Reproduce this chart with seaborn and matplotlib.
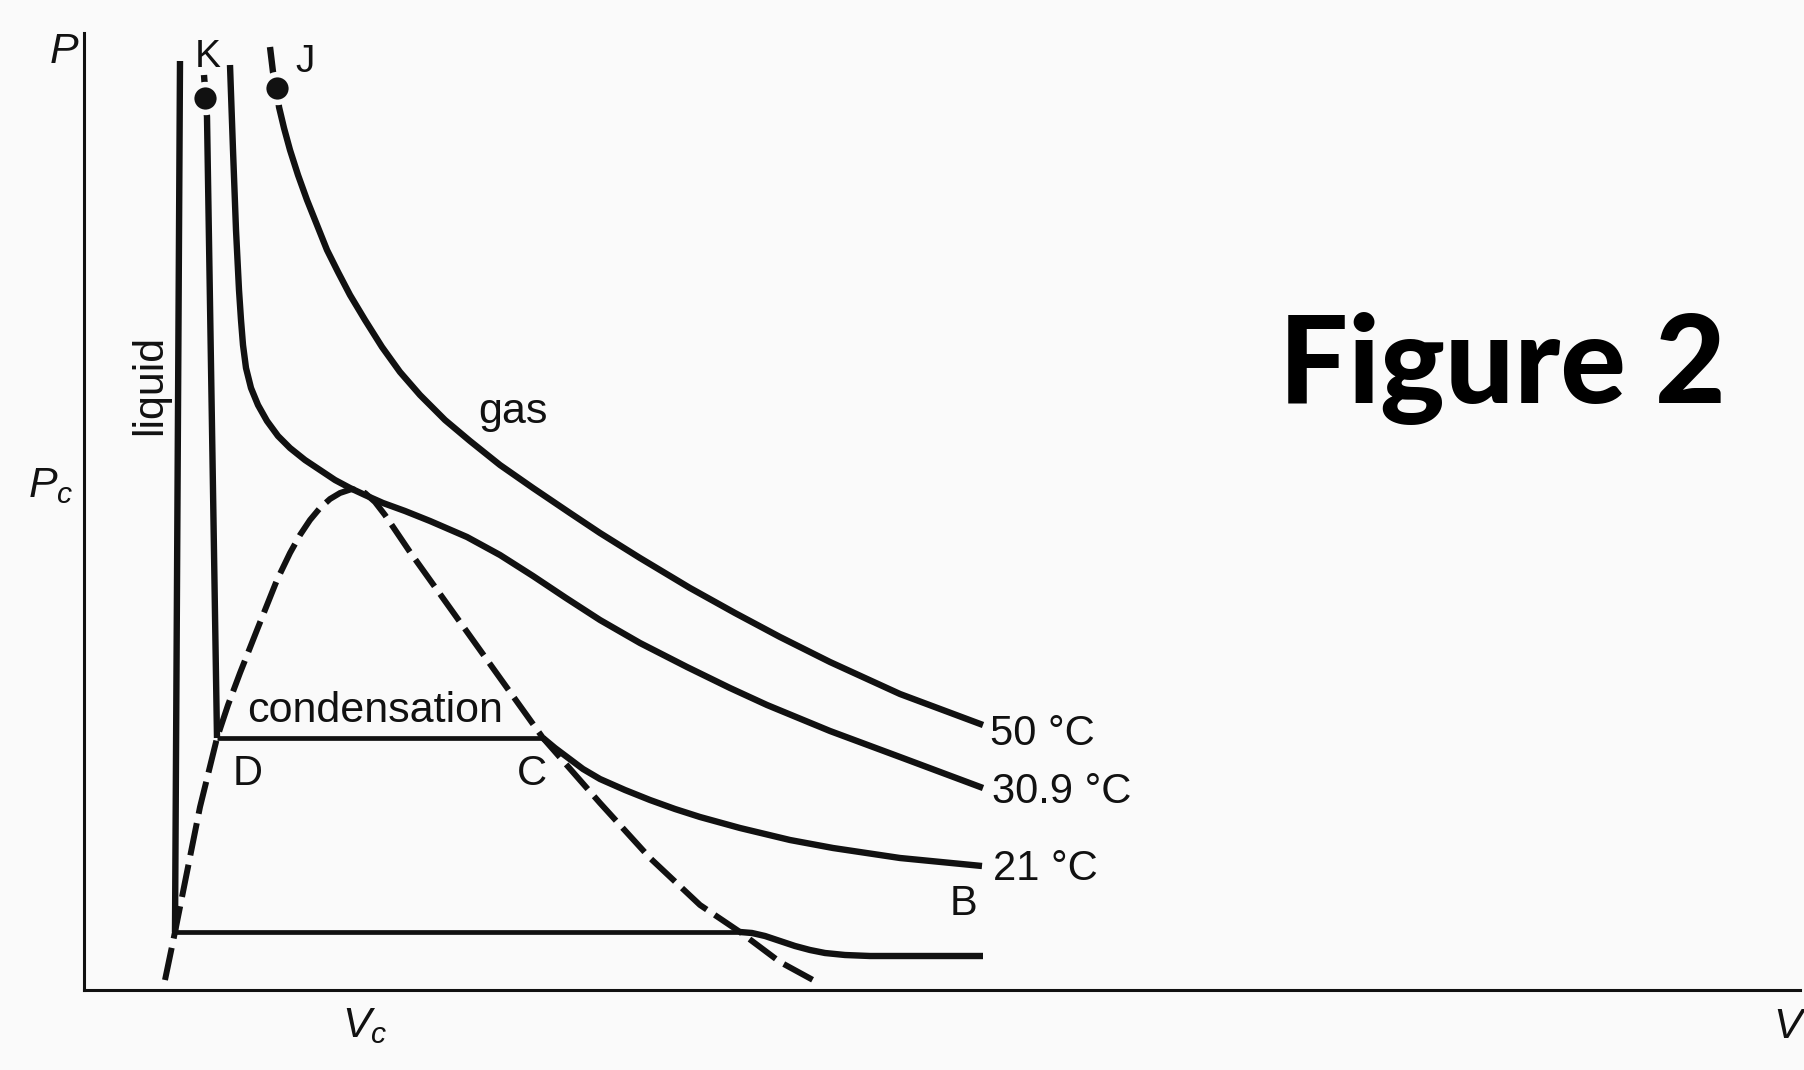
import matplotlib
matplotlib.use("Agg")
import matplotlib.pyplot as plt
import seaborn as sns

# ---------------- data (V, P in arbitrary units) -------------
# lowest (unlabelled) isotherm
low_liq_V = [9.6, 9.1]
low_liq_P = [92.9, 5.8]
low_tie_V = [9.1, 65.6]
low_tie_P = [5.8, 5.8]
low_gas_V = [65.6, 66.8, 68.1, 69.6, 71.1, 72.6, 74.1, 76.1, 78.6, 89.9]
low_gas_P = [5.8, 5.7, 5.4, 4.9, 4.4, 4.0, 3.7, 3.5, 3.4, 3.4]

# 21 degC isotherm (K ... D -- C ... B)
t21_liq_V = [12.0, 12.3, 13.3]
t21_liq_P = [91.5, 87.3, 25.2]
t21_tie_V = [13.3, 45.9]
t21_tie_P = [25.2, 25.2]
t21_gas_V = [45.9, 47.1, 48.3, 49.9, 51.6, 54.1, 56.6, 59.1, 61.6, 65.6, 70.6,
             74.9, 81.6, 89.8]
t21_gas_P = [25.2, 24.2, 23.3, 22.1, 21.1, 20.0, 19.0, 18.1, 17.3, 16.2, 15.0,
             14.2, 13.2, 12.4]

# 30.9 degC (critical) isotherm
t309_V = [14.6, 14.9, 15.2, 15.5, 15.7, 15.9, 16.2, 16.7, 17.4, 18.3, 19.4, 20.6,
          22.1, 23.6, 25.1, 26.6, 28.1, 29.9, 32.1, 34.6, 38.3, 41.6, 44.9, 48.2,
          51.6, 55.6, 60.3, 64.6, 68.3, 74.6, 81.6, 89.9]
t309_P = [92.5, 84.0, 76.0, 70.0, 67.0, 64.5, 62.2, 60.2, 58.5, 56.9, 55.4, 54.2,
          53.0, 52.0, 51.0, 50.2, 49.5, 48.7, 47.9, 46.9, 45.3, 43.5, 41.4, 39.2,
          37.0, 34.7, 32.3, 30.2, 28.5, 25.9, 23.3, 20.2]

# 50 degC isotherm (J ...)
t50_V = [18.6, 18.9, 19.3, 19.5, 20.0, 20.6, 21.4, 22.3, 23.3, 24.3, 25.4, 26.6,
         28.1, 29.8, 31.6, 33.6, 36.1, 38.6, 41.6, 44.9, 48.6, 51.6, 55.6, 60.6,
         65.1, 69.6, 74.6, 81.6, 89.9]
t50_P = [94.3, 91.8, 90.2, 88.3, 86.2, 84.0, 81.5, 79.0, 76.5, 74.0, 71.8, 69.5,
         67.0, 64.3, 61.8, 59.5, 57.0, 54.9, 52.5, 50.2, 47.7, 45.7, 43.2, 40.2,
         37.7, 35.3, 32.8, 29.6, 26.5]

# saturation (coexistence) dome, dashed
dome_V = [8.1, 9.1, 10.6, 11.6, 13.3, 14.4, 15.6, 17.3, 19.3, 20.6, 21.6, 22.6,
          23.6, 24.6, 25.6, 26.8, 28.1, 29.1, 30.1, 32.6, 36.6, 41.6, 45.9, 51.6,
          56.6, 61.6, 65.6, 69.6, 72.9]
dome_P = [1.0, 5.8, 13.3, 18.3, 25.2, 28.5, 31.7, 36.0, 41.0, 43.7, 45.5, 47.0,
          48.2, 49.1, 49.7, 50.1, 49.7, 48.8, 47.5, 43.8, 38.2, 31.2, 25.2, 18.7,
          13.2, 8.5, 5.8, 2.8, 1.0]

# marked points K and J
dot_V = [12.1, 19.3]
dot_P = [89.2, 90.2]

# ---------------- figure -----------------------------------------------------------
sns.set_theme(style="white")
plt.rcParams["font.family"] = ["Liberation Sans", "DejaVu Sans"]
plt.rcParams["mathtext.fontset"] = "custom"
plt.rcParams["mathtext.it"] = "Liberation Sans:italic"
plt.rcParams["mathtext.rm"] = "Liberation Sans"

INK = "#111111"
BG = "#fafafa"

fig = plt.figure(figsize=(18.04, 10.70), dpi=100, facecolor=BG)
ax = fig.add_axes([84 / 1804, 80 / 1070, 1716 / 1804, 957 / 1070])
ax.set_facecolor(BG)
ax.set_xlim(0, 171.6)
ax.set_ylim(0, 95.7)

def curve(V, P, lw=4.6):
    sns.lineplot(x=V, y=P, sort=False, estimator=None, color=INK, lw=lw,
                 ax=ax, solid_capstyle="butt", solid_joinstyle="round")

for V, P in [(low_liq_V, low_liq_P), (low_gas_V, low_gas_P),
             (t21_liq_V, t21_liq_P), (t21_gas_V, t21_gas_P),
             (t309_V, t309_P), (t50_V, t50_P)]:
    curve(V, P)
for V, P in [(low_tie_V, low_tie_P), (t21_tie_V, t21_tie_P)]:
    curve(V, P, lw=3.4)

sns.lineplot(x=dome_V, y=dome_P, sort=False, estimator=None, color=INK, lw=4.3, ax=ax)
ax.lines[-1].set_dashes((5.5, 1.6))
ax.lines[-1].set_dash_capstyle("butt")
ax.lines[-1].set_dash_joinstyle("round")

sns.scatterplot(x=dot_V, y=dot_P, s=400, color=INK, edgecolor=BG, linewidth=4,
                ax=ax, zorder=5)

# axes look: only left and bottom lines, no ticks
sns.despine(ax=ax)
for side in ("left", "bottom"):
    ax.spines[side].set_color(INK)
    ax.spines[side].set_linewidth(2.2)
ax.set_xticks([])
ax.set_yticks([])
ax.set_xlabel("")
ax.set_ylabel("")

# ---------------- text ---------------------------------------------------------
FS = 30
def lab(x, y, s, **kw):
    kw.setdefault("fontsize", FS)
    kw.setdefault("ha", "left")
    kw.setdefault("va", "baseline")
    ax.text(x, y, s, color=INK, **kw)

lab(-3.4, 92.7, "P", style="italic", fontsize=31)
lab(-5.6, 49.3, r"$P_c$", fontsize=31)
lab(25.8, -4.7, r"$V_c$", fontsize=31)
lab(168.9, -4.8, "V", style="italic", fontsize=31)

lab(11.1, 92.3, "K", fontsize=28)
lab(21.1, 91.8, "J", fontsize=28)
lab(6.6, 60.5, "liquid", rotation=90, ha="center", va="center", fontsize=31)
lab(39.4, 56.7, "gas", fontsize=31)
lab(16.3, 26.8, "condensation", fontsize=31)
lab(14.9, 20.5, "D")
lab(43.3, 20.5, "C")
lab(86.6, 7.5, "B")
lab(90.6, 24.5, "50 °C")
lab(90.8, 18.7, "30.9 °C")
lab(90.9, 11.0, "21 °C")

ax.text(119.5, 58.7, "Figure 2", fontsize=88, fontweight=900,
        family=["Lato", "DejaVu Sans"], color="black", ha="left", va="baseline")

fig.savefig("out.png", dpi=100, facecolor=BG)
